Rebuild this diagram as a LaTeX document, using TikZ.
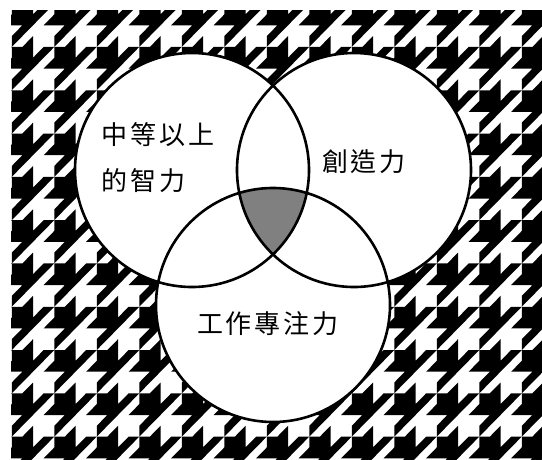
\documentclass[tikz,border=0pt]{standalone}
\usepackage{fontspec}
\newfontfamily\cjk{Noto Sans CJK TC}
\definecolor{lensgrey}{HTML}{808080}
\tikzset{
  tooth/.style={fill=black},
  vennfill/.style={fill=white},
  vennline/.style={draw=black, line width=2.6pt},
  lab/.style={font=\cjk\fontsize{26}{30}\selectfont, inner sep=0pt, text=black}
}
\begin{document}
\begin{tikzpicture}[x=1pt, y=-1pt]
  \useasboundingbox (0,0) rectangle (542,459);
  \fill[white] (0,0) rectangle (542,459);
  % houndstooth background
  \begin{scope}
    \clip (11,10) rectangle (542,459);
    \begin{scope}[shift={(11.75,3.65)}, x=10.625pt, y=-10.825pt]
      \foreach \i in {-1,...,13} {
        \foreach \j in {-1,...,11} {
          \fill[tooth, shift={({4*\i},{4*\j})}]
            (0,0) -- (1,0) -- (2,-1) -- (2,1) -- (3,0) -- (4,0) -- (2,2)
            -- (0,4) -- (0,3) -- (1,2) -- (-1,2) -- (0,1) -- cycle;
        }
      }
    \end{scope}
  \end{scope}
  % circles
  \coordinate (cL) at (192,170);
  \coordinate (cR) at (354,170);
  \coordinate (cB) at (273,305);
  \fill[vennfill] (cL) circle[radius=117];
  \fill[vennfill] (cR) circle[radius=117];
  \fill[vennfill] (cB) circle[radius=117];
  \begin{scope}
    \clip (cL) circle[radius=117];
    \clip (cR) circle[radius=117];
    \fill[lensgrey] (cB) circle[radius=117];
  \end{scope}
  \draw[vennline] (cL) circle[radius=117];
  \draw[vennline] (cR) circle[radius=117];
  \draw[vennline] (cB) circle[radius=117];
  % labels
  \node[lab, anchor=west] (t1) at (101,134.5) {中\kern3pt 等\kern3pt 以\kern3pt 上};
  \node[lab, anchor=west] (t2) at (101,180.5) {的\kern3pt 智\kern3pt 力};
  \node[lab] (t3) at (364,162) {創\kern3pt 造\kern3pt 力};
  \node[lab] (t4) at (268,324) {工\kern3pt 作\kern3pt 專\kern3pt 注\kern3pt 力};
\end{tikzpicture}
\end{document}
